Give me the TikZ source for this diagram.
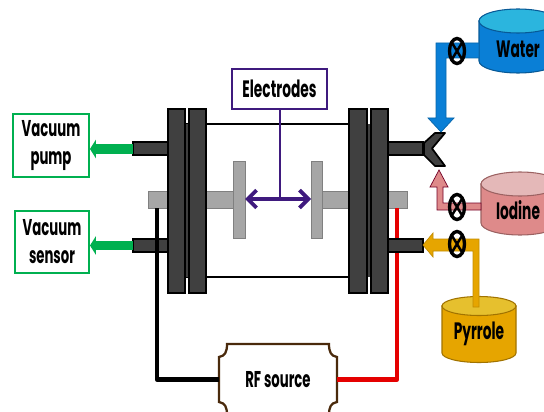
\documentclass[tikz,border=0pt]{standalone}
\usepackage{fontspec}
\setmainfont{Poppins}
\usetikzlibrary{positioning,arrows.meta}
\definecolor{flangegray}{HTML}{404040}
\definecolor{rodgray}{HTML}{A6A6A6}
\definecolor{elecpurple}{HTML}{3F1A7E}
\definecolor{pumpgreen}{HTML}{00B050}
\definecolor{rfbrown}{HTML}{4A2A0C}
\definecolor{waterblue}{HTML}{0A7FD6}
\definecolor{watertop}{HTML}{2BB5DE}
\definecolor{iodinepink}{HTML}{DE8A8A}
\definecolor{iodinetop}{HTML}{E4B8B8}
\definecolor{pyrroleyel}{HTML}{E6A500}
\definecolor{pyrroletop}{HTML}{E6C02E}
\newcommand{\lbl}[1]{\scalebox{.58}[1]{\bfseries #1}}
\newcommand{\tank}[7]{% x, y, rx, ry, height, body, top
  \draw[draw=#6!70!black,fill=#6,line width=0.6pt] (#1,#2) -- (#1,#2+#5) arc (180:0:#3 and #4) -- (#1+2*#3,#2) -- cycle;
  \draw[draw=#6!70!black,fill=#7,line width=0.6pt] (#1+#3,#2) ellipse (#3 and #4);}
\tikzset{
  flange/.style={draw=black,fill=flangegray,line width=1pt},
  rod/.style={draw=gray,fill=rodgray,line width=0.3pt},
  labelbox/.style={draw=pumpgreen,fill=white,line width=1.1pt,align=center,inner sep=0pt,font=\fontsize{13}{16}\selectfont},
  tanklabel/.style={font=\fontsize{13.5}{15}\selectfont},
  gasarrow/.style={-{Triangle[length=3.4pt,width=10.5pt]},pumpgreen,line width=5.6pt}
}
\begin{document}
\begin{tikzpicture}[x=0.02cm,y=-0.02cm]
  \useasboundingbox (0,0) rectangle (544,412);
  \clip (0,0) rectangle (544,412);
  % tanks
  \tank{479}{21}{39}{12}{40}{waterblue}{watertop}
  \tank{481}{184}{39}{12}{39}{iodinepink}{iodinetop}
  \tank{442}{306}{37}{9.5}{47}{pyrroleyel}{pyrroletop}
  \node[tanklabel] (water) at (518,49) {\lbl{Water}};
  \node[tanklabel] (iodine) at (518,210) {\lbl{Iodine}};
  \node[tanklabel] (pyrrole) at (479,334) {\lbl{Pyrrole}};
  % rods and plates
  \draw[rod] (148,191) rectangle (233,208);
  \draw[rod] (322,191) rectangle (407,208);
  \draw[rod] (233,161) rectangle (245,238);
  \draw[rod] (311,161) rectangle (322,238);
  % tube
  \draw[black,line width=1.5pt] (185,124) -- (350,124);
  \draw[black,line width=1.5pt] (185,277) -- (350,277);
  % RF box
  \draw[fill=white,draw=rfbrown,line width=1.3pt] (227,344) -- (329,344) .. controls (329,352) and (331,356) .. (337,357) -- (337,402) .. controls (331,403) and (329,407) .. (329,415) -- (227,415) .. controls (227,407) and (225,403) .. (219,402) -- (219,357) .. controls (225,356) and (227,352) .. (227,344) -- cycle;
  \node[minimum width=2.36cm,minimum height=1.4cm,inner sep=0pt,font=\fontsize{13}{15}\selectfont] (rf) at (278,379.5) {\lbl{RF source}};
  % wires
  \coordinate (rodr) at (397,208);
  \draw[red!90!black,line width=1.9pt] (rodr) -- (397,300);
  \draw[red!90!black,line width=2.6pt,line join=round] (397,300) |- (rf.east);
  % flanges
  \fill[flangegray] (185,124) rectangle (189,277);
  \fill[flangegray] (367,124) rectangle (371,277);
  \draw[flange] (133,142) rectangle (168,155);
  \draw[flange] (133,239) rectangle (168,252);
  \draw[flange] (388,142) rectangle (423,155);
  \draw[flange] (388,239) rectangle (423,252);
  \draw[flange] (168,109) rectangle (185,293);
  \draw[flange] (189,109) rectangle (206,293);
  \draw[flange] (349,109) rectangle (367,293);
  \draw[flange] (371,109) rectangle (388,293);
  \draw[flange,line join=round] (424,143) -- (435,133) -- (445,133) -- (432,148.5) -- (445,166) -- (435,166) -- (424,155) -- cycle;
  \coordinate (rodl) at (157,208);
  \draw[black,line width=1.9pt] (rodl) -- (157,300);
  \draw[black,line width=2.6pt,line join=round] (157,300) |- (rf.west);
  % left boxes
  \node[labelbox,minimum width=1.52cm,minimum height=1.26cm] (pump) at (51,145.5) {\lbl{Vacuum}\\\lbl{pump}};
  \node[labelbox,minimum width=1.48cm,minimum height=1.24cm] (sensor) at (52,242) {\lbl{Vacuum}\\\lbl{sensor}};
  \coordinate (pumpstub) at (133,149);
  \coordinate (sensorstub) at (133,245.5);
  \draw[gasarrow] (pumpstub) -- (pump.east |- pumpstub);
  \draw[gasarrow] (sensorstub) -- (sensor.east |- sensorstub);
  % electrodes
  \node[labelbox,draw=elecpurple,minimum width=1.9cm,minimum height=0.8cm,font=\fontsize{13.5}{15}\selectfont] (electrodes) at (279.5,89) {\lbl{Electrodes}};
  \coordinate (elecl) at (245,199);
  \coordinate (elecr) at (311,199);
  \draw[elecpurple,line width=1.4pt] (electrodes.south -| 280,0) -- (280,199);
  \draw[{Straight Barb[length=5pt,width=10pt]}-{Straight Barb[length=5pt,width=10pt]},elecpurple,line width=2.2pt] (elecl) -- (elecr);
  % pipes
  \draw[draw=waterblue!80!black,fill=waterblue,line width=0.4pt] (479,43) -- (436,43) -- (436,118) -- (428,118) -- (441,132) -- (454,118) -- (446,118) -- (446,58) -- (479,58) -- cycle;
  \draw[draw=purple!60!black,fill=iodinepink,line width=0.4pt] (481,203) -- (443,203) -- (443,187) -- (448,187) -- (439,170) -- (430,187) -- (437,187) -- (437,210) -- (481,210) -- cycle;
  \draw[draw=pyrroleyel!85!black,fill=pyrroleyel,line width=0.4pt] (479,307) -- (479,239) -- (433,239) -- (433,233) -- (423,245) -- (433,257) -- (433,251) -- (473,251) -- (473,307) -- cycle;
  % valves
  \foreach \name/\vy in {vwater/51,viodine/207,vpyrrole/244}{
    \draw[black,line width=1.9pt] (457,\vy) ellipse (7.5 and 12.5);
    \draw[black,line width=1.4pt] (451.5,\vy-9) -- (462.5,\vy+9) (451.5,\vy+9) -- (462.5,\vy-9);
  }
\end{tikzpicture}
\end{document}
